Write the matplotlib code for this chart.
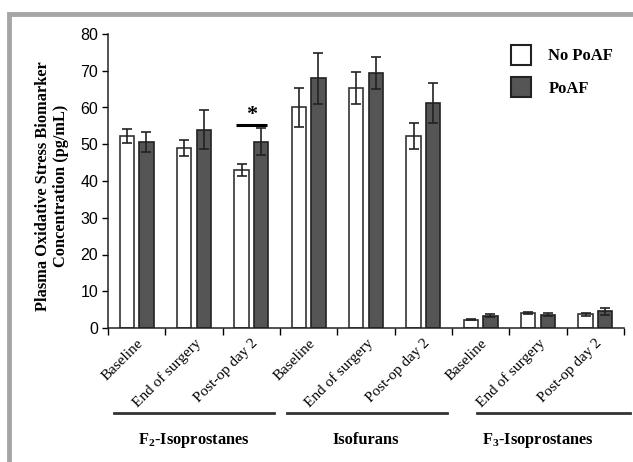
import matplotlib
matplotlib.use("Agg")
import matplotlib.pyplot as plt
import numpy as np
from matplotlib.patches import Patch, Rectangle
from matplotlib.lines import Line2D

plt.rcParams['mathtext.fontset'] = 'custom'
plt.rcParams['mathtext.rm'] = 'Liberation Serif'
plt.rcParams['mathtext.bf'] = 'Liberation Serif:bold'

timepoints = ["Baseline", "End of surgery", "Post-op day 2"]
groups = [r"F$_\mathbf{2}$-Isoprostanes", "Isofurans", r"F$_\mathbf{3}$-Isoprostanes"]
series = ["No PoAF", "PoAF"]

no_poaf = [52.2, 49.0, 43.0, 60.0, 65.3, 52.2, 2.3, 4.1, 3.7]
no_poaf_err = [1.9, 2.2, 1.6, 5.3, 4.3, 3.5, 0.2, 0.3, 0.3]
poaf = [50.6, 54.0, 50.7, 67.9, 69.4, 61.2, 3.4, 3.6, 4.5]
poaf_err = [2.8, 5.2, 3.6, 7.0, 4.4, 5.5, 0.4, 0.4, 0.9]

sig_index = 2
sig_height = 55.2

W, H = 633, 462
fig = plt.figure(figsize=(W/100, H/100), dpi=100)
fig.patch.set_facecolor('white')

# grey frame (top and left visible)
fig.patches.append(Rectangle((9/W, -0.2), 1.5, 1 - 14/H + 0.2, transform=fig.transFigure,
                             fill=False, edgecolor='#a6a6a6', linewidth=3.5, zorder=0))

ax = fig.add_axes([108/W, (H-328)/H, (624-108)/W, (328-34)/H])

labels = timepoints * len(groups)
x = np.arange(len(labels))
bw = 0.25
off = 0.17
ax.bar(x - off, no_poaf, bw, color='white', edgecolor='#333333', linewidth=1.2, zorder=2,
       yerr=no_poaf_err, error_kw=dict(ecolor='#222222', elinewidth=1.2, capsize=3.5, capthick=1.2))
ax.bar(x + off, poaf, bw, color='#555555', edgecolor='#222222', linewidth=1.2, zorder=2,
       yerr=poaf_err, error_kw=dict(ecolor='#222222', elinewidth=1.2, capsize=3.5, capthick=1.2))

ax.set_xlim(-0.5, len(labels) - 0.5)
ax.set_ylim(0, 80)
ax.set_yticks(np.arange(0, 81, 10))
ax.tick_params(axis='y', direction='out', length=4, width=1, labelsize=11.5, pad=3)
for t in ax.get_yticklabels():
    t.set_fontfamily('Liberation Sans')
ax.set_xticks(x)
ax.set_xticklabels(labels, rotation=45, ha='right', va='top', rotation_mode='anchor',
                   fontfamily='Liberation Serif', fontsize=11)
ax.tick_params(axis='x', which='major', length=0, pad=6)
ax.set_xticks(np.arange(-0.5, len(labels), 1), minor=True)
ax.tick_params(axis='x', which='minor', direction='out', length=5, width=1)

for s in ['top', 'right']:
    ax.spines[s].set_visible(False)
for s in ['left', 'bottom']:
    ax.spines[s].set_linewidth(1.1)
    ax.spines[s].set_color('#222222')

ax.set_ylabel("Plasma Oxidative Stress Biomarker\nConcentration (pg/mL)",
              fontfamily='Liberation Serif', fontweight='bold', fontsize=11.8, linespacing=1.15)
ax.yaxis.set_label_coords(-0.076, 0.483)

# significance bar
ax.plot([sig_index - 0.27, sig_index + 0.27], [sig_height, sig_height], color='black',
        linewidth=2.2, solid_capstyle='butt', zorder=3)
ax.text(sig_index, sig_height + 0.1, "*", ha='center', va='bottom', fontsize=16,
        fontfamily='Liberation Serif', fontweight='bold')

# group lines and labels
trans = ax.get_xaxis_transform()
line_spans = [(-0.4, 2.4), (2.63, 5.42), (5.93, 8.6)]
for gi, g in enumerate(groups):
    a, b = line_spans[gi]
    ax.add_line(Line2D([a, b], [-0.29, -0.29], transform=trans, color='#333333',
                       linewidth=2.0, clip_on=False))
    ax.text(gi * 3 + 1, -0.382, g, transform=trans, ha='center', va='center',
            fontfamily='Liberation Serif', fontweight='bold', fontsize=11.8)

handles = [Patch(facecolor='white', edgecolor='#222222', linewidth=1.5),
           Patch(facecolor='#555555', edgecolor='#222222', linewidth=1.5)]
leg = fig.legend(handles, series, loc='upper left', bbox_to_anchor=(496/W, 1 - 30/H),
                 frameon=False, handlelength=1.2, handleheight=1.45, handletextpad=1.05,
                 labelspacing=0.75, prop={'family': 'Liberation Serif', 'weight': 'bold', 'size': 12})

fig.savefig("out.png", dpi=100)
